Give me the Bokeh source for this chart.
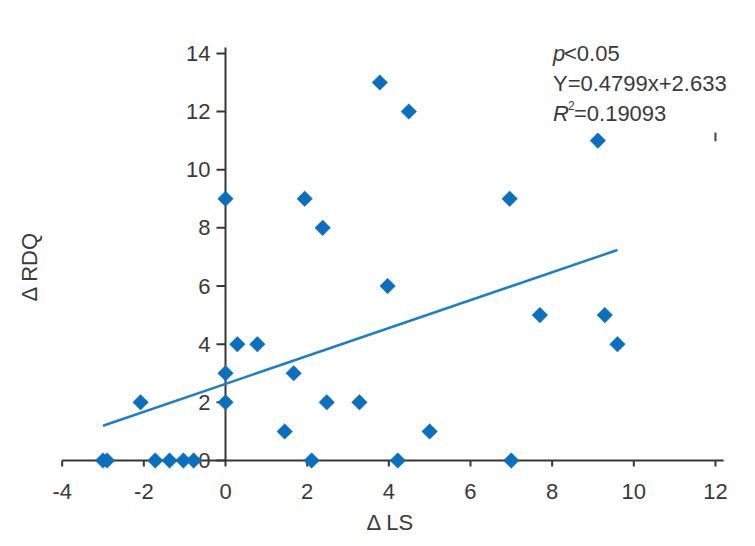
import math
from bokeh.plotting import figure
from bokeh.models import Label, Range1d
from bokeh.core.properties import value
from bokeh.embed import file_html
from bokeh.resources import INLINE

# ---- data ----
delta_ls = [-3.0, -2.9, -1.72, -1.37, -1.03, -0.78, -2.08, 0.0, 0.0, 0.0,
            0.29, 0.78, 1.45, 1.67, 1.94, 2.11, 2.38, 2.48, 3.28, 3.78,
            3.97, 4.22, 4.49, 5.0, 6.96, 7.0, 7.7, 9.12, 9.29, 9.6]
delta_rdq = [0, 0, 0, 0, 0, 0, 2, 9, 3, 2,
             4, 4, 1, 3, 9, 0, 8, 2, 2, 13,
             6, 0, 12, 1, 9, 0, 5, 11, 5, 4]
fit_slope = 0.4799
fit_intercept = 2.633
x_ticks = [-4, -2, 0, 2, 4, 6, 8, 10, 12]
y_ticks = [0, 2, 4, 6, 8, 10, 12, 14]
x_tick_labels = ["-4", "-2", "0", "2", "4", "6", "8", "10", "12"]
y_tick_labels = ["0", "2", "4", "6", "8", "10", "12", "14"]
x_title = "\u0394 LS"
y_title = "\u0394 RDQ"
p_text = ["p", "<0.05"]
eq_text = "Y=0.4799x+2.633"
r2_text = ["R", "2", "=0.19093"]

FONT = "Liberation Sans"
AXIS_COLOR = "#363636"
TEXT_COLOR = "#3a3a3a"
POINT_COLOR = "#0a6fbe"
LINE_COLOR = "#1a80c8"

W, H = 747, 538
PX_X = 40.83      # pixels per x unit
PX_Y = 29.08      # pixels per y unit
X0_PX, Y0_PX = 225, 460   # position of the origin on the canvas

x_rng = Range1d(-X0_PX / PX_X, (W - X0_PX) / PX_X)
y_rng = Range1d(-(H - Y0_PX) / PX_Y, Y0_PX / PX_Y)

p = figure(width=W, height=H, output_backend="svg", toolbar_location=None,
           x_range=x_rng, y_range=y_rng,
           x_axis_location=None, y_axis_location=None,
           min_border=0, min_border_left=0, min_border_right=0,
           min_border_top=0, min_border_bottom=0)
p.outline_line_color = None
p.grid.visible = False
p.background_fill_color = "white"
p.border_fill_color = "white"

# ---- axes crossing at the origin ----
x_end, y_end = 12.2, 14.2
p.segment(x0=[x_ticks[0], 0], y0=[0, 0], x1=[x_end, 0], y1=[0, y_end],
          line_color=AXIS_COLOR, line_width=2)
xt_len = 6 / PX_Y
yt_len = 9 / PX_X
p.segment(x0=x_ticks, y0=[0] * len(x_ticks), x1=x_ticks, y1=[-xt_len] * len(x_ticks),
          line_color=AXIS_COLOR, line_width=2)
p.segment(x0=[0] * len(y_ticks), y0=y_ticks, x1=[-yt_len] * len(y_ticks), y1=y_ticks,
          line_color=AXIS_COLOR, line_width=2)
p.text(x=x_ticks, y=[-31 / PX_Y] * len(x_ticks), text=x_tick_labels,
       text_font=value(FONT), text_font_size=value("22px"), text_color=TEXT_COLOR,
       text_align="center", text_baseline="middle")
p.text(x=[-15 / PX_X] * len(y_ticks), y=y_ticks, text=y_tick_labels,
       text_font=value(FONT), text_font_size=value("22px"), text_color=TEXT_COLOR,
       text_align="right", text_baseline="middle")

# axis titles
p.text(x=[4.04], y=[-2.13], text=[x_title], text_font=value(FONT),
       text_font_size=value("22px"), text_color=TEXT_COLOR,
       text_align="center", text_baseline="middle")
p.text(x=[-4.80], y=[6.67], text=[y_title], angle=math.pi / 2, text_font=value(FONT),
       text_font_size=value("22px"), text_color=TEXT_COLOR,
       text_align="center", text_baseline="middle")

# ---- regression line ----
x_fit = [min(delta_ls), max(delta_ls)]
y_fit = [fit_slope * v + fit_intercept for v in x_fit]
p.line(x_fit, y_fit, line_color=LINE_COLOR, line_width=2.5)

# ---- points (diamonds) ----
p.scatter(delta_ls, delta_rdq, marker="square", angle=math.pi / 4, size=11,
          fill_color=POINT_COLOR, line_color=POINT_COLOR, line_width=0.5)

# small stray tick mark seen at the right of the reference
p.segment(x0=[12.0], y0=[11.28], x1=[12.0], y1=[10.98], line_color="#444444",
          line_width=2)

# ---- statistics block ----
sx = 8.02
common = dict(text_font=FONT, text_font_size="22px", text_color=TEXT_COLOR,
              text_baseline="alphabetic")
p.add_layout(Label(x=sx, y=14.0, text=p_text[0], text_font_style="italic", **common))
p.add_layout(Label(x=sx, y=14.0, x_offset=11, text=p_text[1], **common))
p.add_layout(Label(x=sx, y=12.97, text=eq_text, **common))
p.add_layout(Label(x=sx, y=11.93, text=r2_text[0], text_font_style="italic", **common))
p.add_layout(Label(x=sx, y=11.93, x_offset=15, y_offset=8, text=r2_text[1],
                   text_font=FONT, text_font_size="12px", text_color=TEXT_COLOR,
                   text_baseline="alphabetic"))
p.add_layout(Label(x=sx, y=11.93, x_offset=21, text=r2_text[2], **common))

open("out.html", "w").write(file_html(p, INLINE))
